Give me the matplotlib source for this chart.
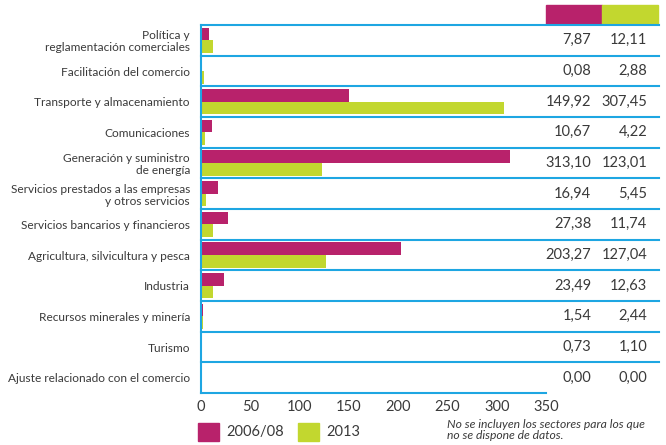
import numpy as np
import matplotlib.pyplot as plt
from matplotlib.patches import Rectangle

# Sectores y valores (millones de USD)
sectors = ['Política y\nreglamentación comerciales', 'Facilitación del comercio',
           'Transporte y almacenamiento', 'Comunicaciones',
           'Generación y suministro\nde energía',
           'Servicios prestados a las empresas\ny otros servicios',
           'Servicios bancarios y financieros', 'Agricultura, silvicultura y pesca',
           'Industria', 'Recursos minerales y minería', 'Turismo',
           'Ajuste relacionado con el comercio']
vals_0608 = [7.87, 0.08, 149.92, 10.67, 313.10, 16.94, 27.38, 203.27, 23.49, 1.54, 0.73, 0.00]
vals_2013 = [12.11, 2.88, 307.45, 4.22, 123.01, 5.45, 11.74, 127.04, 12.63, 2.44, 1.10, 0.00]
xticks = [0, 50, 100, 150, 200, 250, 300, 350]

magenta = '#b8226b'
green = '#c2d72f'
blue = '#1ea6e2'
txt = '#3a3a3a'

plt.rcParams['font.family'] = ['Lato', 'DejaVu Sans']

fig = plt.figure(figsize=(6.66, 4.45), dpi=100)
ax = fig.add_axes([201 / 666, 52 / 445, 345 / 666, 368 / 445])

y = np.arange(len(sectors))
h = 0.41
ax.barh(y - h / 2, vals_0608, height=h, color=magenta)
ax.barh(y + h / 2, vals_2013, height=h, color=green)

ax.set_xlim(0, 350)
ax.set_ylim(len(sectors) - 0.5, -0.5)
ax.set_xticks(xticks)
ax.set_xticklabels([str(t) for t in xticks], fontsize=10.5, color=txt)
ax.set_yticks(y)
ax.set_yticklabels(sectors, fontsize=8.6, color=txt, linespacing=1.1)
ax.tick_params(length=0, pad=8)
ax.tick_params(axis='x', pad=5)

for s in ['top', 'right']:
    ax.spines[s].set_visible(False)
for s in ['left', 'bottom']:
    ax.spines[s].set_color(blue)
    ax.spines[s].set_linewidth(1.5)

# separadores de filas que llegan hasta la tabla
tr = ax.get_yaxis_transform()
for i in range(len(sectors)):
    ax.plot([0, 1.328], [i - 0.5, i - 0.5], transform=tr, color=blue, lw=1.5, clip_on=False)

# columnas de valores
for i in range(len(sectors)):
    ax.text(1.131, i, f'{vals_0608[i]:.2f}'.replace('.', ','), transform=tr,
            ha='right', va='center', fontsize=10.5, color=txt)
    ax.text(1.293, i, f'{vals_2013[i]:.2f}'.replace('.', ','), transform=tr,
            ha='right', va='center', fontsize=10.5, color=txt)

# cabecera de la tabla
ax.add_patch(Rectangle((1.0, 1.003), 0.162, 0.051, transform=ax.transAxes,
                       color=magenta, clip_on=False))
ax.add_patch(Rectangle((1.162, 1.003), 0.163, 0.051, transform=ax.transAxes,
                       color=green, clip_on=False))

# leyenda
fig.patches.append(Rectangle((198 / 666, 4 / 445), 21 / 666, 18 / 445,
                             transform=fig.transFigure, color=magenta))
fig.text(226 / 666, 13 / 445, '2006/08', fontsize=10.5, color=txt, va='center')
fig.patches.append(Rectangle((298 / 666, 4 / 445), 21 / 666, 18 / 445,
                             transform=fig.transFigure, color=green))
fig.text(326 / 666, 13 / 445, '2013', fontsize=10.5, color=txt, va='center')

fig.text(447 / 666, 15 / 445, 'No se incluyen los sectores para los que\nno se dispone de datos.',
         fontsize=8.7, style='italic', color=txt, va='center', linespacing=1.05)

fig.savefig('out.png', dpi=100)
